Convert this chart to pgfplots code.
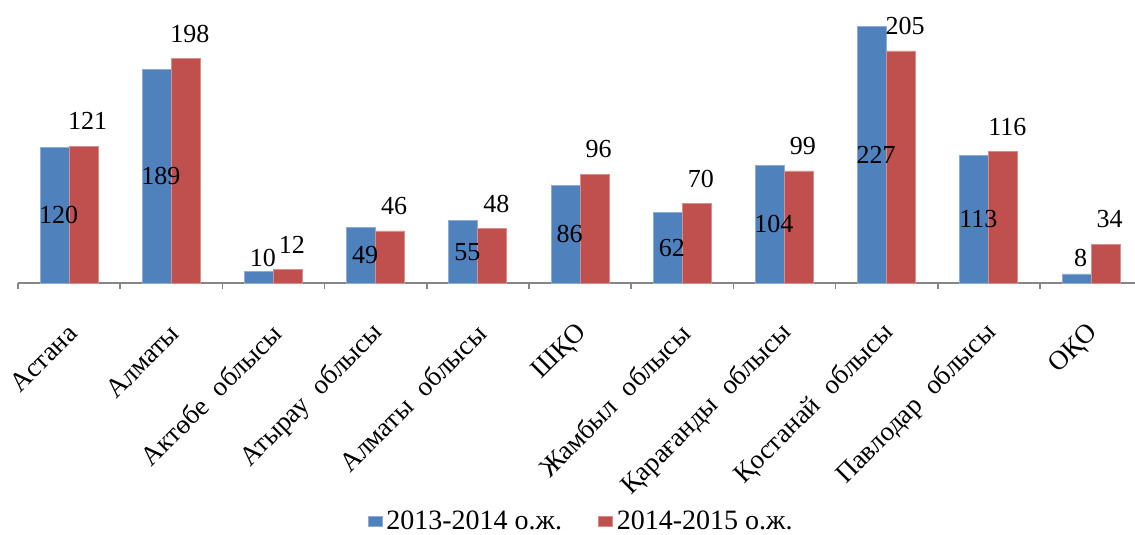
\documentclass[border=0pt]{standalone}
\usepackage{fontspec}
\setmainfont{Liberation Serif}
\usepackage{pgfplots}
\pgfplotsset{compat=1.18}
\definecolor{serA}{RGB}{79,129,189}
\definecolor{serB}{RGB}{192,80,77}
\definecolor{axgray}{RGB}{134,134,134}
\newcommand{\chartfont}{\fontsize{13pt}{15.5pt}\selectfont}
\newcommand{\tickfont}{\fontsize{13.5pt}{16pt}\selectfont}
\newcommand{\legfont}{\fontsize{14pt}{16.5pt}\selectfont}
\newcommand{\wsp}{\hspace{0.55em}}
\begin{document}
\begin{tikzpicture}
\begin{axis}[
    name=ax,
    scale only axis,
    width=558.5pt, height=141.5pt,
    ybar=0pt, bar width=14.5pt,
    xmin=-0.5, xmax=10.43,
    ymin=0, ymax=250,
    axis x line=bottom, axis y line=none,
    x axis line style={draw=axgray, line width=1pt, -},
    xtick={0,...,10},
    xticklabels={Астана, Алматы, Актөбе\wsp облысы, Атырау\wsp облысы, Алматы\wsp облысы, ШҚО, Жамбыл\wsp облысы, Қарағанды\wsp облысы, Қостанай\wsp облысы, Павлодар\wsp облысы, ОҚО},
    major tick length=0pt,
    minor xtick={-0.5,0.5,...,9.5},
    minor tick length=3pt,
    tick align=outside,
    every tick/.style={draw=axgray, line width=0.8pt},
    xticklabel style={rotate=45, anchor=east, font=\tickfont, xshift=-11.7pt, yshift=-17.5pt},
    /pgf/number format/assume math mode=true,
    legend style={at={(0.505,-0.845)}, anchor=center, draw=none, legend columns=2,
        font=\legfont, /tikz/every even column/.append style={column sep=16pt}},
    legend image code/.code={\fill[#1] (0pt,-2pt) rectangle (7pt,3pt);},
    every node near coord/.append style={font=\chartfont, text=black, anchor=center, xshift=2pt},
    clip=false,
]
\addplot[fill=serA, draw=serA!65!white, line width=0.4pt,
    nodes near coords,
    visualization depends on={ifthenelse(y<20,22-y,-y/2) \as \dy},
    every node near coord/.append style={shift={(axis direction cs:0,\dy)}},
] coordinates {(0,120) (1,189) (2,10) (3,49) (4,55) (5,86) (6,62) (7,104) (8,227) (9,113) (10,8)};
\addlegendentry{2013-2014 о.ж.}
\addplot[fill=serB, draw=serB!65!white, line width=0.4pt,
    nodes near coords,
    every node near coord/.append style={yshift=12.5pt},
] coordinates {(0,121) (1,198) (2,12) (3,46) (4,48) (5,96) (6,70) (7,99) (8,205) (9,116) (10,34)};
\addlegendentry{2014-2015 о.ж.}
\end{axis}
\pgfresetboundingbox
\path (ax.south west) ++(-9pt,-126pt) rectangle ++(567.5pt,267.5pt);
\end{tikzpicture}
\end{document}
